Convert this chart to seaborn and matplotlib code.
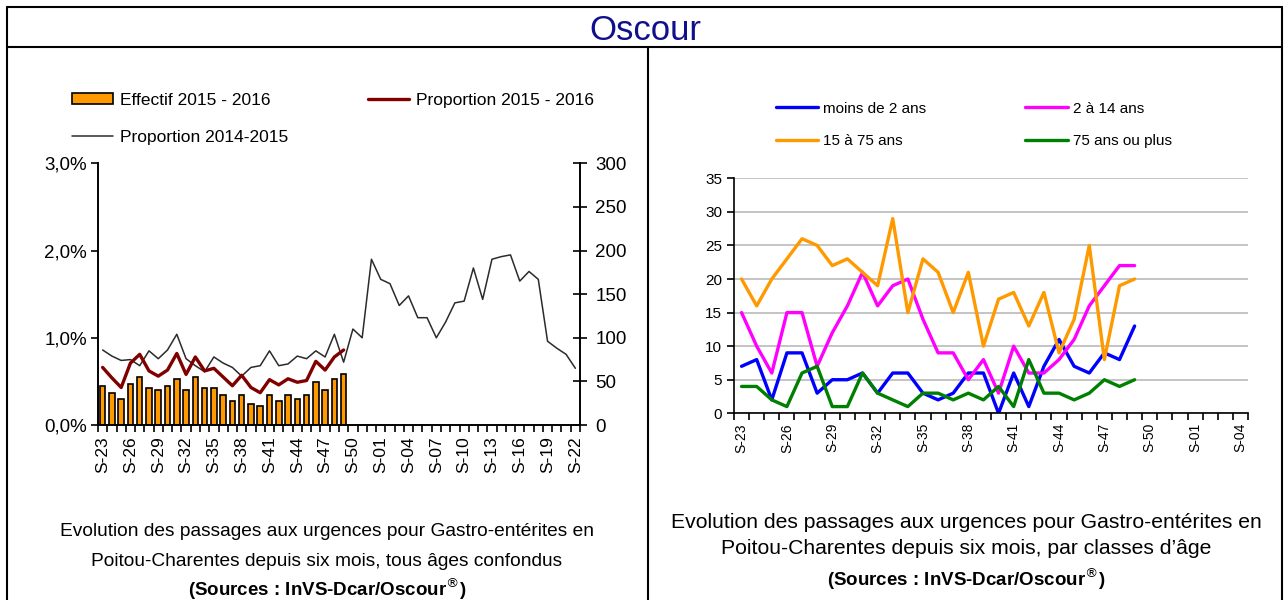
import numpy as np
import pandas as pd
import matplotlib
matplotlib.use('Agg')
import matplotlib.pyplot as plt
import seaborn as sns
from matplotlib.ticker import FuncFormatter, FixedLocator
from matplotlib.lines import Line2D
from matplotlib.patches import Patch

# semaines (axe des abscisses)
semaines_g = ['S-%02d' % w for w in list(range(23, 53)) + list(range(1, 23))]
semaines_d = ['S-%02d' % w for w in list(range(23, 53)) + list(range(1, 5))]

# graphique de gauche : tous ages
effectif_1516 = [45, 37, 30, 47, 55, 42, 40, 45, 53, 40, 55, 42, 42, 34,
                 28, 34, 24, 22, 34, 28, 34, 30, 34, 49, 40, 53, 58]
prop_1516 = [0.66, 0.54, 0.43, 0.71, 0.81, 0.62, 0.56, 0.63, 0.82, 0.58,
             0.78, 0.62, 0.65, 0.55, 0.45, 0.57, 0.43, 0.37, 0.52, 0.46,
             0.53, 0.49, 0.51, 0.73, 0.63, 0.78, 0.86]
prop_1415 = [0.86, 0.79, 0.74, 0.75, 0.68, 0.85, 0.76, 0.86, 1.04, 0.76,
             0.68, 0.61, 0.78, 0.71, 0.66, 0.56, 0.66, 0.68, 0.85, 0.68,
             0.70, 0.79, 0.76, 0.85, 0.78, 1.04, 0.72, 1.10, 1.00, 1.90,
             1.67, 1.62, 1.37, 1.48, 1.23, 1.23, 1.00, 1.18, 1.40, 1.42,
             1.80, 1.44, 1.90, 1.93, 1.95, 1.65, 1.76, 1.67, 0.96, 0.88,
             0.81, 0.65]

# graphique de droite : classes d'age
moins_2 = [7, 8, 2, 9, 9, 3, 5, 5, 6, 3, 6, 6, 3, 2, 3, 6, 6, 0, 6, 1,
           7, 11, 7, 6, 9, 8, 13]
de_2_14 = [15, 10, 6, 15, 15, 7, 12, 16, 21, 16, 19, 20, 14, 9, 9, 5, 8,
           3, 10, 6, 6, 8, 11, 16, 19, 22, 22]
de_15_75 = [20, 16, 20, 23, 26, 25, 22, 23, 21, 19, 29, 15, 23, 21, 15,
            21, 10, 17, 18, 13, 18, 9, 14, 25, 8, 19, 20]
plus_75 = [4, 4, 2, 1, 6, 7, 1, 1, 6, 3, 2, 1, 3, 3, 2, 3, 2, 4, 1, 8,
           3, 3, 2, 3, 5, 4, 5]

sns.set_theme(style='white')
plt.rcParams['font.family'] = ['Liberation Sans', 'DejaVu Sans']
for k in ('text.color', 'axes.labelcolor', 'xtick.color', 'ytick.color'):
    plt.rcParams[k] = 'black'

fig = plt.figure(figsize=(12.87, 6), dpi=100)

# cadre
W, H = 1287.0, 600.0
def trait(x0, y0, x1, y1, lw=1.5):
    fig.add_artist(Line2D([x0 / W, x1 / W], [1 - y0 / H, 1 - y1 / H],
                          transform=fig.transFigure, color='black', lw=lw))

trait(7, 7, 1282, 7)
trait(7, 7, 7, 600)
trait(1282, 7, 1282, 600)
trait(7, 47, 1282, 47)
trait(648, 47, 648, 600)

fig.text(645 / W, 1 - 30 / H, 'Oscour', color='#10108c', fontsize=25,
         ha='center', va='center')

# ---------------- gauche
ax = fig.add_axes([98 / W, 1 - 425 / H, (580 - 98) / W, (425 - 163.3) / H])
axr = ax.twinx()
ax.set_zorder(axr.get_zorder() + 1)
ax.patch.set_visible(False)

pos_g = np.arange(len(semaines_g))
df_bar = pd.DataFrame({'pos': pos_g[:len(effectif_1516)], 'effectif': effectif_1516})
sns.barplot(data=df_bar, x='pos', y='effectif', native_scale=True, ax=axr,
            color='#ff9900', saturation=1, width=0.6, edgecolor='black', linewidth=1.2)
sns.lineplot(x=pos_g, y=prop_1415, ax=ax, color='#2b2b2b', linewidth=1.1)
sns.lineplot(x=pos_g[:len(prop_1516)], y=prop_1516, ax=ax, color='#800000', linewidth=2.4)

ax.set_xlim(-0.5, len(semaines_g) - 0.5)
ax.set_ylim(0, 3)
axr.set_ylim(0, 300)
ax.set_yticks([0, 1, 2, 3])
ax.yaxis.set_major_formatter(FuncFormatter(lambda v, p: ('%.1f%%' % v).replace('.', ',')))
axr.set_yticks(range(0, 301, 50))
ax.tick_params(axis='y', direction='out', length=5, width=1.2, labelsize=13.5, pad=3)
axr.tick_params(axis='y', direction='inout', length=10, width=1.2, labelsize=13.5, pad=6)
axr.set_xlabel('')
axr.set_ylabel('')
ax.set_xlabel('')
ax.set_ylabel('')

for a in (ax, axr):
    a.spines['top'].set_visible(False)
    for s in ('left', 'right', 'bottom'):
        a.spines[s].set_color('black')
        a.spines[s].set_linewidth(1.2)
    a.grid(False)

# ticks de l'axe x : traits aux limites, etiquettes toutes les 3 semaines
ax.xaxis.set_major_locator(FixedLocator(np.arange(len(semaines_g) + 1) - 0.5))
ax.xaxis.set_major_formatter(FuncFormatter(lambda v, p: ''))
ax.xaxis.set_minor_locator(FixedLocator(pos_g[::3]))
ax.set_xticklabels(semaines_g[::3], minor=True, rotation=90)
ax.tick_params(axis='x', which='major', direction='out', length=5, width=1.2, bottom=True)
ax.tick_params(axis='x', which='minor', length=0, labelsize=12.5, pad=8)
axr.tick_params(axis='x', which='both', bottom=False, labelbottom=False)

handles_g = [Patch(facecolor='#ff9900', edgecolor='black', linewidth=1.2),
             Line2D([], [], color='#800000', lw=2.4),
             Line2D([], [], color='#2b2b2b', lw=1.1)]
labels_g = ['Effectif 2015 - 2016', 'Proportion 2015 - 2016', 'Proportion 2014-2015']
fig.legend([handles_g[0], handles_g[2], handles_g[1]],
           [labels_g[0], labels_g[2], labels_g[1]],
           ncol=2, loc='upper left', bbox_to_anchor=(63 / W, 1 - 84 / H),
           frameon=False, fontsize=12.5, handlelength=2.4, handleheight=0.6,
           handletextpad=0.4, columnspacing=4.55, labelspacing=1.3, borderpad=0)

fig.text(327 / W, 1 - 532 / H, 'Evolution des passages aux urgences pour Gastro-entérites en',
         ha='center', va='center', fontsize=13.8)
fig.text(327 / W, 1 - 561 / H, 'Poitou-Charentes depuis six mois, tous âges confondus',
         ha='center', va='center', fontsize=13.8)
fig.text(327 / W, 1 - 589 / H, '(Sources : InVS-Dcar/Oscour$^{®}$)',
         ha='center', va='center', fontsize=13.5, fontweight='bold')

# ---------------- droite
ax2 = fig.add_axes([734 / W, 1 - 413.3 / H, (1248 - 734) / W, (413.3 - 178.3) / H])
pos_d = np.arange(len(semaines_d))
n = len(moins_2)
df_age = pd.DataFrame({
    'pos': np.tile(pos_d[:n], 4),
    'valeur': moins_2 + de_2_14 + de_15_75 + plus_75,
    'classe': ['moins de 2 ans'] * n + ['2 à 14 ans'] * n + ['15 à 75 ans'] * n + ['75 ans ou plus'] * n,
})
palette = {'moins de 2 ans': '#0000ff', '2 à 14 ans': '#ff00ff',
           '15 à 75 ans': '#ff9900', '75 ans ou plus': '#008000'}
sns.lineplot(data=df_age, x='pos', y='valeur', hue='classe', palette=palette,
             linewidth=2.4, ax=ax2, legend=False)

ax2.set_xlim(-0.5, len(semaines_d) - 0.5)
ax2.set_ylim(0, 35)
ax2.set_yticks(range(0, 36, 5))
ax2.yaxis.grid(True, color='#bfbfbf', linewidth=1.3)
ax2.set_axisbelow(True)
ax2.set_xlabel('')
ax2.set_ylabel('')
ax2.spines['top'].set_visible(False)
ax2.spines['right'].set_visible(False)
for s in ('left', 'bottom'):
    ax2.spines[s].set_color('black')
    ax2.spines[s].set_linewidth(1.2)
ax2.tick_params(axis='y', direction='out', length=5, width=1.2, labelsize=11, left=True)
ax2.xaxis.set_major_locator(FixedLocator(np.arange(len(semaines_d) + 1) - 0.5))
ax2.xaxis.set_major_formatter(FuncFormatter(lambda v, p: ''))
ax2.xaxis.set_minor_locator(FixedLocator(pos_d[::3]))
ax2.set_xticklabels(semaines_d[::3], minor=True, rotation=90)
ax2.tick_params(axis='x', which='major', direction='out', length=5, width=1.2, bottom=True)
ax2.tick_params(axis='x', which='minor', length=0, labelsize=10, pad=7)

handles_d = [Line2D([], [], color=palette[k], lw=2.4) for k in palette]
labels_d = list(palette)
fig.legend([handles_d[0], handles_d[2], handles_d[1], handles_d[3]],
           [labels_d[0], labels_d[2], labels_d[1], labels_d[3]],
           ncol=2, loc='upper left', bbox_to_anchor=(768 / W, 1 - 94 / H),
           frameon=False, fontsize=11, handlelength=2.8,
           handletextpad=0.3, columnspacing=6.5, labelspacing=1.2, borderpad=0)

fig.text(966 / W, 1 - 522 / H, 'Evolution des passages aux urgences pour Gastro-entérites en',
         ha='center', va='center', fontsize=15.2)
fig.text(966 / W, 1 - 549 / H, 'Poitou-Charentes depuis six mois, par classes d\u2019âge',
         ha='center', va='center', fontsize=15.2)
fig.text(966 / W, 1 - 579 / H, '(Sources : InVS-Dcar/Oscour$^{®}$)',
         ha='center', va='center', fontsize=13.5, fontweight='bold')

fig.savefig('out.png', dpi=100)
